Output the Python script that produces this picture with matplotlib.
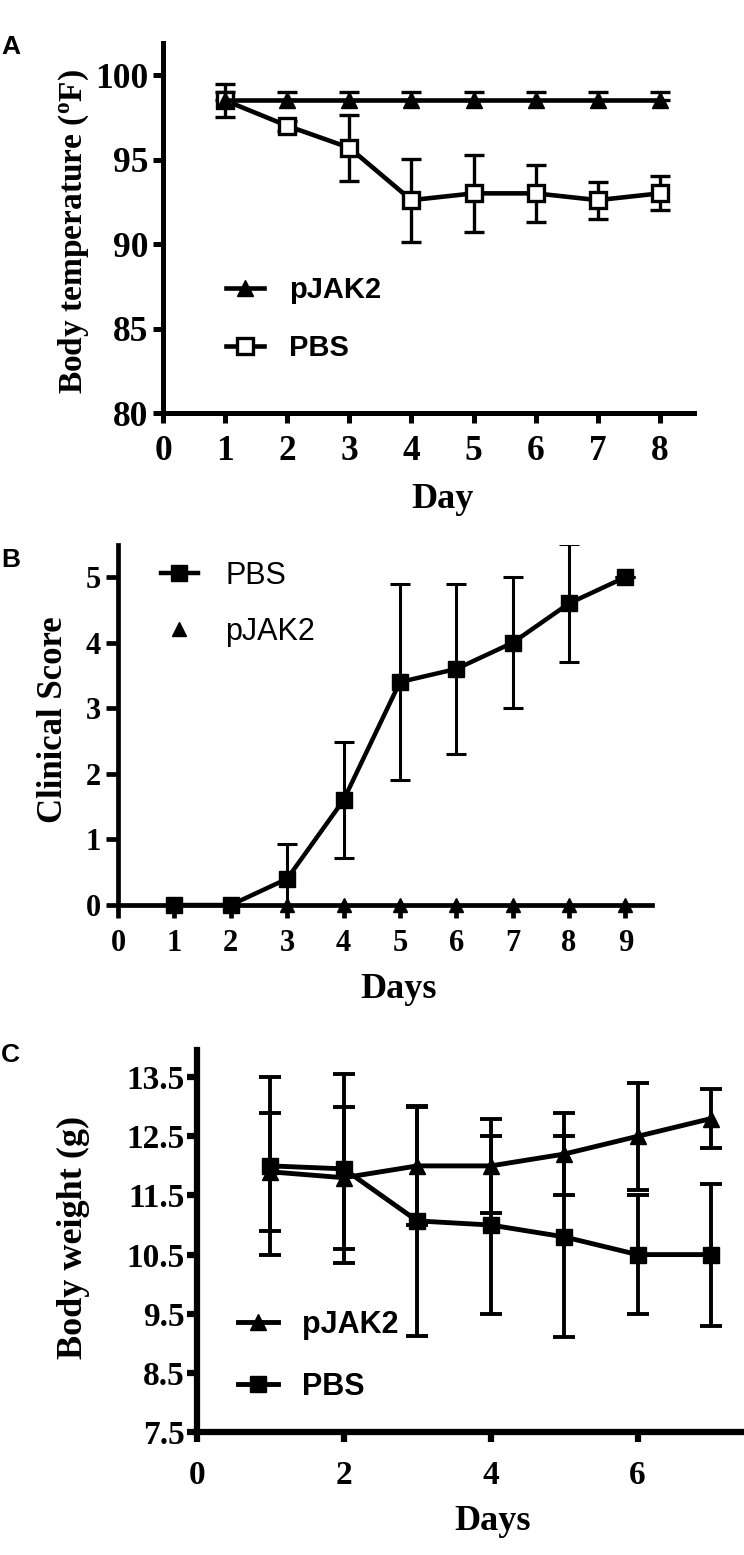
import numpy as np
import matplotlib
matplotlib.use("Agg")
import matplotlib.pyplot as plt

W, H = 744, 1555

# panel A: body temperature
days_a = [1, 2, 3, 4, 5, 6, 7, 8]
temp_pjak2 = [98.5, 98.5, 98.5, 98.5, 98.5, 98.5, 98.5, 98.5]
temp_pjak2_err = [0.5, 0.5, 0.5, 0.5, 0.5, 0.5, 0.5, 0.5]
temp_pbs = [98.5, 97.0, 95.7, 92.6, 93.0, 93.0, 92.6, 93.0]
temp_pbs_err = [1.0, 0.3, 1.95, 2.45, 2.3, 1.7, 1.1, 1.0]

# panel B: clinical score
days_b = [1, 2, 3, 4, 5, 6, 7, 8, 9]
score_pbs = [0, 0, 0.4, 1.6, 3.4, 3.6, 4.0, 4.6, 5.0]
score_pbs_err = [0, 0, 0.53, 0.88, 1.5, 1.3, 1.0, 0.9, 0]
score_pjak2 = [0, 0, 0, 0, 0, 0, 0, 0, 0]

# panel C: body weight
days_c = [1, 2, 3, 4, 5, 6, 7]
weight_pjak2 = [11.9, 11.8, 12.0, 12.0, 12.2, 12.5, 12.8]
weight_pjak2_err = [1.0, 1.2, 1.0, 0.8, 0.7, 0.9, 0.5]
weight_pbs = [12.0, 11.95, 11.07, 11.0, 10.8, 10.5, 10.5]
weight_pbs_err = [1.5, 1.6, 1.95, 1.5, 1.7, 1.0, 1.2]

plt.rcParams['font.family'] = 'Liberation Serif'
plt.rcParams['font.weight'] = 'bold'
plt.rcParams['mathtext.fontset'] = 'custom'
plt.rcParams['mathtext.rm'] = 'Liberation Serif:bold'
plt.rcParams['mathtext.bf'] = 'Liberation Serif:bold'


def px_axes(left, top, right, bottom):
    return [left / W, 1 - bottom / H, (right - left) / W, (bottom - top) / H]


def style_axes(ax, spine_w, tick_len, tick_w, size, xpad, ypad):
    for s in ['top', 'right']:
        ax.spines[s].set_visible(False)
    for s in ['left', 'bottom']:
        ax.spines[s].set_linewidth(spine_w)
    ax.tick_params(direction='out', length=tick_len, width=tick_w, labelsize=size)
    ax.tick_params(axis='x', pad=xpad)
    ax.tick_params(axis='y', pad=ypad)


fig = plt.figure(figsize=(W / 100, H / 100), dpi=100)

# ---------------- A ----------------
ax = fig.add_axes(px_axes(163, 43, 694, 413))
ax.errorbar(days_a, temp_pjak2, yerr=[[0] * 8, temp_pjak2_err], fmt='none', ecolor='black',
            elinewidth=2.4, capsize=7, capthick=2.4, zorder=2)
ax.errorbar(days_a, temp_pbs, yerr=temp_pbs_err, fmt='none', ecolor='black',
            elinewidth=2.4, capsize=7, capthick=2.4, zorder=2)
l_pjak2, = ax.plot(days_a, temp_pjak2, color='black', lw=3.3, marker='^', ms=11,
                   label='pJAK2', zorder=4)
l_pbs, = ax.plot(days_a, temp_pbs, color='black', lw=3.3, marker='s', ms=11,
                 mfc='white', mew=2.4, label='PBS', zorder=3)
ax.set_xlim(0, 8.55)
ax.set_ylim(80, 101.9)
ax.set_xticks(range(0, 9))
ax.set_yticks([80, 85, 90, 95, 100])
style_axes(ax, 3.6, 7, 3.6, 25.5, 9, 3.5)
ax.set_xlabel('Day', fontsize=26, fontweight='bold')
ax.xaxis.set_label_coords(0.527, -0.19)
ax.set_ylabel(r'Body temperature ($\mathregular{^{o}}$F)', fontsize=24, fontweight='bold')
ax.yaxis.set_label_coords(-0.135, 0.49)
ax.legend(handles=[l_pjak2, l_pbs], loc='upper left', frameon=False,
          bbox_to_anchor=(226 / W, 1 - 276 / H), bbox_transform=fig.transFigure,
          prop={'family': 'Liberation Sans', 'weight': 'bold', 'size': 21},
          handlelength=1.3, handletextpad=0.85, labelspacing=1.03, borderpad=0,
          borderaxespad=0, numpoints=1)
fig.text(1 / W, 1 - 47 / H, 'A', fontsize=19, fontweight='bold', family='Liberation Sans',
         va='center', ha='left')

# ---------------- B ----------------
ax = fig.add_axes(px_axes(118, 545, 652, 905))
ax.errorbar(days_b, score_pbs, yerr=score_pbs_err, fmt='none', ecolor='black',
            elinewidth=2.2, capsize=7, capthick=2.2, zorder=2)
l_pbs, = ax.plot(days_b, score_pbs, color='black', lw=3.2, marker='s', ms=12,
                 label='PBS', zorder=4, clip_on=False)
l_pjak2, = ax.plot(days_b, score_pjak2, color='black', ls='none', marker='^', ms=10,
                   label='pJAK2', zorder=3, clip_on=False)
ax.set_xlim(0, 9.47)
ax.set_ylim(0, 5.49)
ax.set_xticks(range(0, 10))
ax.set_yticks(range(0, 6))
style_axes(ax, 3.4, 9, 3.4, 22, 8, 3)
ax.set_xlabel('Days', fontsize=26, fontweight='bold')
ax.xaxis.set_label_coords(0.526, -0.19)
ax.set_ylabel('Clinical Score', fontsize=25, fontweight='bold')
ax.yaxis.set_label_coords(-0.09, 0.514)
ax.legend(handles=[l_pbs, l_pjak2], loc='upper left', frameon=False,
          bbox_to_anchor=(161 / W, 1 - 561 / H), bbox_transform=fig.transFigure,
          prop={'family': 'Liberation Sans', 'weight': 'normal', 'size': 22},
          handlelength=1.2, handletextpad=0.9, labelspacing=0.85, borderpad=0,
          borderaxespad=0, numpoints=1)
fig.text(1 / W, 1 - 560 / H, 'B', fontsize=19, fontweight='bold', family='Liberation Sans',
         va='center', ha='left')

# ---------------- C ----------------
ax = fig.add_axes(px_axes(197, 1050, 744, 1432))
ax.errorbar(days_c, weight_pjak2, yerr=weight_pjak2_err, fmt='none', ecolor='black',
            elinewidth=2.8, capsize=8, capthick=2.8, zorder=2)
ax.errorbar(days_c, weight_pbs, yerr=weight_pbs_err, fmt='none', ecolor='black',
            elinewidth=2.8, capsize=8, capthick=2.8, zorder=2)
l_pjak2, = ax.plot(days_c, weight_pjak2, color='black', lw=3.5, marker='^', ms=12,
                   label='pJAK2', zorder=4)
l_pbs, = ax.plot(days_c, weight_pbs, color='black', lw=3.5, marker='s', ms=12,
                 label='PBS', zorder=3)
ax.set_xlim(0, 7.45)
ax.set_ylim(7.5, 13.96)
ax.set_xticks([0, 2, 4, 6])
ax.set_yticks([7.5, 8.5, 9.5, 10.5, 11.5, 12.5, 13.5])
ax.set_yticklabels(['7.5', '8.5', '9.5', '10.5', '11.5', '12.5', '13.5'])
style_axes(ax, 4.5, 7, 4.5, 24, 13, 2)
ax.set_xlabel('Days', fontsize=26, fontweight='bold')
ax.xaxis.set_label_coords(0.54, -0.19)
ax.set_ylabel('Body weight (g)', fontsize=26, fontweight='bold')
ax.yaxis.set_label_coords(-0.195, 0.51)
ax.legend(handles=[l_pjak2, l_pbs], loc='upper left', frameon=False,
          bbox_to_anchor=(238 / W, 1 - 1310 / H), bbox_transform=fig.transFigure,
          prop={'family': 'Liberation Sans', 'weight': 'bold', 'size': 22},
          handlelength=1.3, handletextpad=0.8, labelspacing=1.05, borderpad=0,
          borderaxespad=0, numpoints=1)
fig.text(1 / W, 1 - 1055 / H, 'C', fontsize=19, fontweight='bold', family='Liberation Sans',
         va='center', ha='left')

fig.savefig('out.png', dpi=100)
